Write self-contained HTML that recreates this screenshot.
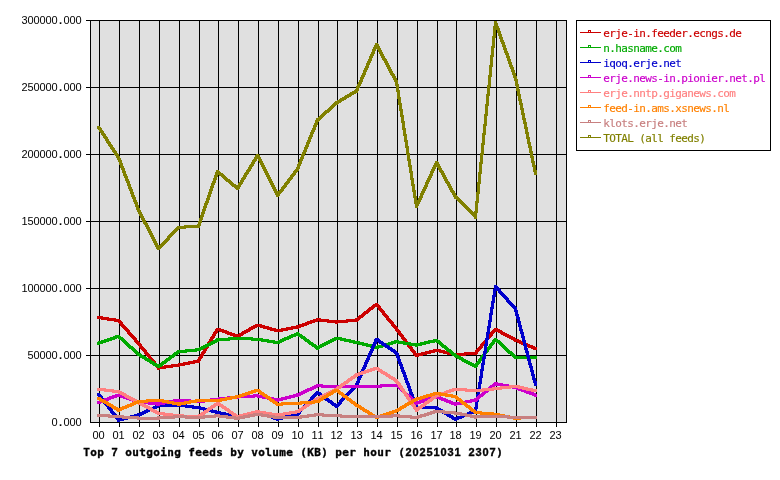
<!DOCTYPE html>
<html lang="en"><head><meta charset="utf-8"><title>Top 7 outgoing feeds by volume (KB) per hour</title>
<style>html,body{margin:0;padding:0;background:#fff}svg{display:block}.s{font-family:"DejaVu Sans Mono","Liberation Mono",monospace;font-size:11px;text-anchor:middle;stroke-width:.15px;fill:#000;stroke:#000}.n{font-family:"Liberation Sans","DejaVu Sans",sans-serif;stroke:none}.t .n{stroke:#000}.t{font-family:"DejaVu Sans Mono","Liberation Mono",monospace;font-size:11px;font-weight:bold;text-anchor:middle;stroke:#000;stroke-width:.35px}.g{stroke:#000;stroke-width:1;shape-rendering:crispEdges;fill:none}.d{stroke:none;shape-rendering:crispEdges}</style></head><body>
<svg width="780" height="480" viewBox="0 0 780 480">
<rect x="0" y="0" width="780" height="480" fill="#fff"/>
<rect x="90" y="20" width="477" height="403" fill="#e0e0e0" shape-rendering="crispEdges"/>
<path class="g" d="M86 20.5H567M86 87.5H567M86 154.5H567M86 221.5H567M86 288.5H567M86 355.5H567M90 422.5H567M99.5 20V427M119.5 20V427M139.5 20V427M159.5 20V427M179.5 20V427M199.5 20V427M218.5 20V427M238.5 20V427M258.5 20V427M278.5 20V427M298.5 20V427M318.5 20V427M337.5 20V427M357.5 20V427M377.5 20V427M397.5 20V427M417.5 20V427M437.5 20V427M456.5 20V427M476.5 20V427M496.5 20V427M516.5 20V427M536.5 20V427M556.5 20V427M90.5 20V423M566.5 20V423"/>
<path class="d" fill="#cc0000" d="M97.5 316L99.5 316L119.5 319L119.5 322L117.5 322L97.5 319ZM117 319.5L120 319.5L140 342.5L140 344.5L137 344.5L117 321.5ZM137 342.5L140 342.5L160 367L160 369L157 369L137 344.5ZM157.5 366.5L177.5 363.5L179.5 363.5L179.5 366.5L159.5 369.5L157.5 369.5ZM177.5 363.5L197.5 359.5L199.5 359.5L199.5 362.5L179.5 366.5L177.5 366.5ZM197 360L216 328L219 328L219 330L200 362L197 362ZM216.5 327.5L218.5 327.5L238.5 334.8L238.5 337.8L236.5 337.8L216.5 330.5ZM236.5 334.8L256.5 323.5L258.5 323.5L258.5 326.5L238.5 337.8L236.5 337.8ZM256.5 323.5L258.5 323.5L278.5 329.3L278.5 332.3L276.5 332.3L256.5 326.5ZM276.5 329.3L296.5 325.5L298.5 325.5L298.5 328.5L278.5 332.3L276.5 332.3ZM296.5 325.5L316.5 318.2L318.5 318.2L318.5 321.2L298.5 328.5L296.5 328.5ZM316.5 318.2L318.5 318.2L337.5 320.5L337.5 323.5L335.5 323.5L316.5 321.2ZM335.5 320.5L355.5 318.5L357.5 318.5L357.5 321.5L337.5 323.5L335.5 323.5ZM355.5 318.5L375.5 302.8L377.5 302.8L377.5 305.8L357.5 321.5L355.5 321.5ZM375 303.3L378 303.3L398 328L398 330L395 330L375 305.3ZM395 328L398 328L418 354.5L418 356.5L415 356.5L395 330ZM415.5 354L435.5 348.8L437.5 348.8L437.5 351.8L417.5 357L415.5 357ZM435.5 348.8L437.5 348.8L456.5 353.2L456.5 356.2L454.5 356.2L435.5 351.8ZM454.5 353.2L474.5 351.8L476.5 351.8L476.5 354.8L456.5 356.2L454.5 356.2ZM474 352.3L494 328.3L497 328.3L497 330.3L477 354.3L474 354.3ZM494.5 327.8L496.5 327.8L516.5 338.5L516.5 341.5L514.5 341.5L494.5 330.8ZM514.5 338.5L516.5 338.5L536.5 347.2L536.5 350.2L534.5 350.2L514.5 341.5ZM97 316h3v3h-3ZM117 319h3v3h-3ZM137 342h3v3h-3ZM157 366.5h3v3h-3ZM177 363.5h3v3h-3ZM197 359.5h3v3h-3ZM216 327.5h3v3h-3ZM236 334.8h3v3h-3ZM256 323.5h3v3h-3ZM276 329.3h3v3h-3ZM296 325.5h3v3h-3ZM316 318.2h3v3h-3ZM335 320.5h3v3h-3ZM355 318.5h3v3h-3ZM375 302.8h3v3h-3ZM395 327.5h3v3h-3ZM415 354h3v3h-3ZM435 348.8h3v3h-3ZM454 353.2h3v3h-3ZM474 351.8h3v3h-3ZM494 327.8h3v3h-3ZM514 338.5h3v3h-3ZM534 347.2h3v3h-3Z"/>
<path class="d" fill="#00aa00" d="M97.5 341.8L117.5 334.8L119.5 334.8L119.5 337.8L99.5 344.8L97.5 344.8ZM117.5 334.8L119.5 334.8L139.5 352.7L139.5 355.7L137.5 355.7L117.5 337.8ZM137.5 352.7L139.5 352.7L159.5 365L159.5 368L157.5 368L137.5 355.7ZM157.5 365L177.5 350.2L179.5 350.2L179.5 353.2L159.5 368L157.5 368ZM177.5 350.2L197.5 348.3L199.5 348.3L199.5 351.3L179.5 353.2L177.5 353.2ZM197.5 348.3L216.5 338.5L218.5 338.5L218.5 341.5L199.5 351.3L197.5 351.3ZM216.5 338.5L236.5 336.8L238.5 336.8L238.5 339.8L218.5 341.5L216.5 341.5ZM236.5 336.8L238.5 336.8L258.5 337.8L258.5 340.8L256.5 340.8L236.5 339.8ZM256.5 337.8L258.5 337.8L278.5 341L278.5 344L276.5 344L256.5 340.8ZM276.5 341L296.5 332.2L298.5 332.2L298.5 335.2L278.5 344L276.5 344ZM296.5 332.2L298.5 332.2L318.5 346.5L318.5 349.5L316.5 349.5L296.5 335.2ZM316.5 346.5L335.5 336.5L337.5 336.5L337.5 339.5L318.5 349.5L316.5 349.5ZM335.5 336.5L337.5 336.5L357.5 341L357.5 344L355.5 344L335.5 339.5ZM355.5 341L357.5 341L377.5 346L377.5 349L375.5 349L355.5 344ZM375.5 346L395.5 340.2L397.5 340.2L397.5 343.2L377.5 349L375.5 349ZM395.5 340.2L397.5 340.2L417.5 343.5L417.5 346.5L415.5 346.5L395.5 343.2ZM415.5 343.5L435.5 338.8L437.5 338.8L437.5 341.8L417.5 346.5L415.5 346.5ZM435.5 338.8L437.5 338.8L456.5 354.3L456.5 357.3L454.5 357.3L435.5 341.8ZM454.5 354.3L456.5 354.3L476.5 364.8L476.5 367.8L474.5 367.8L454.5 357.3ZM474 365.3L494 338.2L497 338.2L497 340.2L477 367.3L474 367.3ZM494.5 337.7L496.5 337.7L516.5 356L516.5 359L514.5 359L494.5 340.7ZM514.5 356L536.5 356L536.5 359L514.5 359ZM97 341.8h3v3h-3ZM117 334.8h3v3h-3ZM137 352.7h3v3h-3ZM157 365h3v3h-3ZM177 350.2h3v3h-3ZM197 348.3h3v3h-3ZM216 338.5h3v3h-3ZM236 336.8h3v3h-3ZM256 337.8h3v3h-3ZM276 341h3v3h-3ZM296 332.2h3v3h-3ZM316 346.5h3v3h-3ZM335 336.5h3v3h-3ZM355 341h3v3h-3ZM375 346h3v3h-3ZM395 340.2h3v3h-3ZM415 343.5h3v3h-3ZM435 338.8h3v3h-3ZM454 354.3h3v3h-3ZM474 364.8h3v3h-3ZM494 337.7h3v3h-3ZM514 356h3v3h-3ZM534 356h3v3h-3Z"/>
<path class="d" fill="#0000cc" d="M97 393.2L100 393.2L120 419L120 421L117 421L97 395.2ZM117.5 418.5L137.5 413.5L139.5 413.5L139.5 416.5L119.5 421.5L117.5 421.5ZM137.5 413.5L157.5 404.3L159.5 404.3L159.5 407.3L139.5 416.5L137.5 416.5ZM157.5 404.3L177.5 403.5L179.5 403.5L179.5 406.5L159.5 407.3L157.5 407.3ZM177.5 403.5L179.5 403.5L199.5 406.2L199.5 409.2L197.5 409.2L177.5 406.5ZM197.5 406.2L199.5 406.2L218.5 411L218.5 414L216.5 414L197.5 409.2ZM216.5 411L218.5 411L238.5 415.2L238.5 418.2L236.5 418.2L216.5 414ZM236.5 415.2L256.5 410L258.5 410L258.5 413L238.5 418.2L236.5 418.2ZM256.5 410L258.5 410L278.5 417.7L278.5 420.7L276.5 420.7L256.5 413ZM276.5 417.7L296.5 412.7L298.5 412.7L298.5 415.7L278.5 420.7L276.5 420.7ZM296 413.2L316 391.5L319 391.5L319 393.5L299 415.2L296 415.2ZM316.5 391L318.5 391L337.5 404.8L337.5 407.8L335.5 407.8L316.5 394ZM335 405.3L355 384L358 384L358 386L338 407.3L335 407.3ZM355 384L375 338.3L378 338.3L378 340.3L358 386L355 386ZM375.5 337.8L377.5 337.8L397.5 351.5L397.5 354.5L395.5 354.5L375.5 340.8ZM395 352L398 352L418 406.5L418 408.5L415 408.5L395 354ZM415.5 406L417.5 406L437.5 406.5L437.5 409.5L435.5 409.5L415.5 409ZM435.5 406.5L437.5 406.5L456.5 417.7L456.5 420.7L454.5 420.7L435.5 409.5ZM454.5 417.7L474.5 409.3L476.5 409.3L476.5 412.3L456.5 420.7L454.5 420.7ZM474 409.8L494 285.5L497 285.5L497 287.5L477 411.8L474 411.8ZM494 285.5L497 285.5L517 308L517 310L514 310L494 287.5ZM514 308L517 308L537 383.2L537 385.2L534 385.2L514 310ZM97 392.7h3v3h-3ZM117 418.5h3v3h-3ZM137 413.5h3v3h-3ZM157 404.3h3v3h-3ZM177 403.5h3v3h-3ZM197 406.2h3v3h-3ZM216 411h3v3h-3ZM236 415.2h3v3h-3ZM256 410h3v3h-3ZM276 417.7h3v3h-3ZM296 412.7h3v3h-3ZM316 391h3v3h-3ZM335 404.8h3v3h-3ZM355 383.5h3v3h-3ZM375 337.8h3v3h-3ZM395 351.5h3v3h-3ZM415 406h3v3h-3ZM435 406.5h3v3h-3ZM454 417.7h3v3h-3ZM474 409.3h3v3h-3ZM494 285h3v3h-3ZM514 307.5h3v3h-3ZM534 382.7h3v3h-3Z"/>
<path class="d" fill="#cc00cc" d="M97.5 401L117.5 393.5L119.5 393.5L119.5 396.5L99.5 404L97.5 404ZM117.5 393.5L119.5 393.5L139.5 400.2L139.5 403.2L137.5 403.2L117.5 396.5ZM137.5 400.2L139.5 400.2L159.5 402.7L159.5 405.7L157.5 405.7L137.5 403.2ZM157.5 402.7L177.5 398.5L179.5 398.5L179.5 401.5L159.5 405.7L157.5 405.7ZM177.5 398.5L179.5 398.5L199.5 400.2L199.5 403.2L197.5 403.2L177.5 401.5ZM197.5 400.2L216.5 397.7L218.5 397.7L218.5 400.7L199.5 403.2L197.5 403.2ZM216.5 397.7L236.5 395.5L238.5 395.5L238.5 398.5L218.5 400.7L216.5 400.7ZM236.5 395.5L256.5 394.3L258.5 394.3L258.5 397.3L238.5 398.5L236.5 398.5ZM256.5 394.3L258.5 394.3L278.5 398.5L278.5 401.5L276.5 401.5L256.5 397.3ZM276.5 398.5L296.5 393.5L298.5 393.5L298.5 396.5L278.5 401.5L276.5 401.5ZM296.5 393.5L316.5 384.3L318.5 384.3L318.5 387.3L298.5 396.5L296.5 396.5ZM316.5 384.3L318.5 384.3L337.5 385.2L337.5 388.2L335.5 388.2L316.5 387.3ZM335.5 385.2L355.5 384.8L357.5 384.8L357.5 387.8L337.5 388.2L335.5 388.2ZM355.5 384.8L377.5 384.8L377.5 387.8L355.5 387.8ZM375.5 384.8L395.5 383.5L397.5 383.5L397.5 386.5L377.5 387.8L375.5 387.8ZM395.5 383.5L397.5 383.5L417.5 401.8L417.5 404.8L415.5 404.8L395.5 386.5ZM415.5 401.8L435.5 395.2L437.5 395.2L437.5 398.2L417.5 404.8L415.5 404.8ZM435.5 395.2L437.5 395.2L456.5 402.7L456.5 405.7L454.5 405.7L435.5 398.2ZM454.5 402.7L474.5 398.5L476.5 398.5L476.5 401.5L456.5 405.7L454.5 405.7ZM474.5 398.5L494.5 382.2L496.5 382.2L496.5 385.2L476.5 401.5L474.5 401.5ZM494.5 382.2L496.5 382.2L516.5 386L516.5 389L514.5 389L494.5 385.2ZM514.5 386L516.5 386L536.5 393.5L536.5 396.5L534.5 396.5L514.5 389ZM97 401h3v3h-3ZM117 393.5h3v3h-3ZM137 400.2h3v3h-3ZM157 402.7h3v3h-3ZM177 398.5h3v3h-3ZM197 400.2h3v3h-3ZM216 397.7h3v3h-3ZM236 395.5h3v3h-3ZM256 394.3h3v3h-3ZM276 398.5h3v3h-3ZM296 393.5h3v3h-3ZM316 384.3h3v3h-3ZM335 385.2h3v3h-3ZM355 384.8h3v3h-3ZM375 384.8h3v3h-3ZM395 383.5h3v3h-3ZM415 401.8h3v3h-3ZM435 395.2h3v3h-3ZM454 402.7h3v3h-3ZM474 398.5h3v3h-3ZM494 382.2h3v3h-3ZM514 386h3v3h-3ZM534 393.5h3v3h-3Z"/>
<path class="d" fill="#ff8080" d="M97.5 387.7L99.5 387.7L119.5 390.2L119.5 393.2L117.5 393.2L97.5 390.7ZM117.5 390.2L119.5 390.2L139.5 401L139.5 404L137.5 404L117.5 393.2ZM137.5 401L139.5 401L159.5 411.8L159.5 414.8L157.5 414.8L137.5 404ZM157.5 411.8L159.5 411.8L179.5 414.3L179.5 417.3L177.5 417.3L157.5 414.8ZM177.5 414.3L179.5 414.3L199.5 415.2L199.5 418.2L197.5 418.2L177.5 417.3ZM197.5 415.2L216.5 401.8L218.5 401.8L218.5 404.8L199.5 418.2L197.5 418.2ZM216.5 401.8L218.5 401.8L238.5 415.2L238.5 418.2L236.5 418.2L216.5 404.8ZM236.5 415.2L256.5 410.2L258.5 410.2L258.5 413.2L238.5 418.2L236.5 418.2ZM256.5 410.2L258.5 410.2L278.5 413.5L278.5 416.5L276.5 416.5L256.5 413.2ZM276.5 413.5L296.5 410.2L298.5 410.2L298.5 413.2L278.5 416.5L276.5 416.5ZM296.5 410.2L316.5 397L318.5 397L318.5 400L298.5 413.2L296.5 413.2ZM316.5 397L335.5 387.7L337.5 387.7L337.5 390.7L318.5 400L316.5 400ZM335.5 387.7L355.5 373.5L357.5 373.5L357.5 376.5L337.5 390.7L335.5 390.7ZM355.5 373.5L375.5 366.8L377.5 366.8L377.5 369.8L357.5 376.5L355.5 376.5ZM375.5 366.8L377.5 366.8L397.5 379.3L397.5 382.3L395.5 382.3L375.5 369.8ZM395 379.8L398 379.8L418 409L418 411L415 411L395 381.8ZM415.5 408.5L435.5 394.3L437.5 394.3L437.5 397.3L417.5 411.5L415.5 411.5ZM435.5 394.3L454.5 387.7L456.5 387.7L456.5 390.7L437.5 397.3L435.5 397.3ZM454.5 387.7L456.5 387.7L476.5 389.3L476.5 392.3L474.5 392.3L454.5 390.7ZM474.5 389.3L494.5 387.2L496.5 387.2L496.5 390.2L476.5 392.3L474.5 392.3ZM494.5 387.2L514.5 384.8L516.5 384.8L516.5 387.8L496.5 390.2L494.5 390.2ZM514.5 384.8L516.5 384.8L536.5 389.3L536.5 392.3L534.5 392.3L514.5 387.8ZM97 387.7h3v3h-3ZM117 390.2h3v3h-3ZM137 401h3v3h-3ZM157 411.8h3v3h-3ZM177 414.3h3v3h-3ZM197 415.2h3v3h-3ZM216 401.8h3v3h-3ZM236 415.2h3v3h-3ZM256 410.2h3v3h-3ZM276 413.5h3v3h-3ZM296 410.2h3v3h-3ZM316 397h3v3h-3ZM335 387.7h3v3h-3ZM355 373.5h3v3h-3ZM375 366.8h3v3h-3ZM395 379.3h3v3h-3ZM415 408.5h3v3h-3ZM435 394.3h3v3h-3ZM454 387.7h3v3h-3ZM474 389.3h3v3h-3ZM494 387.2h3v3h-3ZM514 384.8h3v3h-3ZM534 389.3h3v3h-3Z"/>
<path class="d" fill="#ff8000" d="M97.5 396.8L99.5 396.8L119.5 408.5L119.5 411.5L117.5 411.5L97.5 399.8ZM117.5 408.5L137.5 400.2L139.5 400.2L139.5 403.2L119.5 411.5L117.5 411.5ZM137.5 400.2L157.5 398.5L159.5 398.5L159.5 401.5L139.5 403.2L137.5 403.2ZM157.5 398.5L159.5 398.5L179.5 402.7L179.5 405.7L177.5 405.7L157.5 401.5ZM177.5 402.7L197.5 399L199.5 399L199.5 402L179.5 405.7L177.5 405.7ZM197.5 399L199.5 399L218.5 399.3L218.5 402.3L216.5 402.3L197.5 402ZM216.5 399.3L236.5 395.2L238.5 395.2L238.5 398.2L218.5 402.3L216.5 402.3ZM236.5 395.2L256.5 388.8L258.5 388.8L258.5 391.8L238.5 398.2L236.5 398.2ZM256.5 388.8L258.5 388.8L278.5 402.7L278.5 405.7L276.5 405.7L256.5 391.8ZM276.5 402.7L296.5 401.8L298.5 401.8L298.5 404.8L278.5 405.7L276.5 405.7ZM296.5 401.8L316.5 400.2L318.5 400.2L318.5 403.2L298.5 404.8L296.5 404.8ZM316.5 400.2L335.5 388.5L337.5 388.5L337.5 391.5L318.5 403.2L316.5 403.2ZM335.5 388.5L337.5 388.5L357.5 403.5L357.5 406.5L355.5 406.5L335.5 391.5ZM355.5 403.5L357.5 403.5L377.5 416L377.5 419L375.5 419L355.5 406.5ZM375.5 416L395.5 409.3L397.5 409.3L397.5 412.3L377.5 419L375.5 419ZM395.5 409.3L415.5 397.7L417.5 397.7L417.5 400.7L397.5 412.3L395.5 412.3ZM415.5 397.7L435.5 391.8L437.5 391.8L437.5 394.8L417.5 400.7L415.5 400.7ZM435.5 391.8L437.5 391.8L456.5 395.2L456.5 398.2L454.5 398.2L435.5 394.8ZM454.5 395.2L456.5 395.2L476.5 411L476.5 414L474.5 414L454.5 398.2ZM474.5 411L476.5 411L496.5 412.7L496.5 415.7L494.5 415.7L474.5 414ZM494.5 412.7L496.5 412.7L516.5 416.8L516.5 419.8L514.5 419.8L494.5 415.7ZM514.5 416.8L534.5 415.5L536.5 415.5L536.5 418.5L516.5 419.8L514.5 419.8ZM97 396.8h3v3h-3ZM117 408.5h3v3h-3ZM137 400.2h3v3h-3ZM157 398.5h3v3h-3ZM177 402.7h3v3h-3ZM197 399h3v3h-3ZM216 399.3h3v3h-3ZM236 395.2h3v3h-3ZM256 388.8h3v3h-3ZM276 402.7h3v3h-3ZM296 401.8h3v3h-3ZM316 400.2h3v3h-3ZM335 388.5h3v3h-3ZM355 403.5h3v3h-3ZM375 416h3v3h-3ZM395 409.3h3v3h-3ZM415 397.7h3v3h-3ZM435 391.8h3v3h-3ZM454 395.2h3v3h-3ZM474 411h3v3h-3ZM494 412.7h3v3h-3ZM514 416.8h3v3h-3ZM534 415.5h3v3h-3Z"/>
<path class="d" fill="#c88080" d="M97.5 413.8L99.5 413.8L119.5 415.2L119.5 418.2L117.5 418.2L97.5 416.8ZM117.5 415.2L119.5 415.2L139.5 416.5L139.5 419.5L137.5 419.5L117.5 418.2ZM137.5 416.5L159.5 416.5L159.5 419.5L137.5 419.5ZM157.5 416.5L177.5 415.2L179.5 415.2L179.5 418.2L159.5 419.5L157.5 419.5ZM177.5 415.2L179.5 415.2L199.5 416L199.5 419L197.5 419L177.5 418.2ZM197.5 416L216.5 414.3L218.5 414.3L218.5 417.3L199.5 419L197.5 419ZM216.5 414.3L218.5 414.3L238.5 416.8L238.5 419.8L236.5 419.8L216.5 417.3ZM236.5 416.8L256.5 412.7L258.5 412.7L258.5 415.7L238.5 419.8L236.5 419.8ZM256.5 412.7L258.5 412.7L278.5 416L278.5 419L276.5 419L256.5 415.7ZM276.5 416L298.5 416L298.5 419L276.5 419ZM296.5 416L316.5 413.2L318.5 413.2L318.5 416.2L298.5 419L296.5 419ZM316.5 413.2L318.5 413.2L337.5 414.3L337.5 417.3L335.5 417.3L316.5 416.2ZM335.5 414.3L337.5 414.3L357.5 415.2L357.5 418.2L355.5 418.2L335.5 417.3ZM355.5 415.2L377.5 415.2L377.5 418.2L355.5 418.2ZM375.5 415.2L395.5 414.3L397.5 414.3L397.5 417.3L377.5 418.2L375.5 418.2ZM395.5 414.3L397.5 414.3L417.5 416L417.5 419L415.5 419L395.5 417.3ZM415.5 416L435.5 409.8L437.5 409.8L437.5 412.8L417.5 419L415.5 419ZM435.5 409.8L437.5 409.8L456.5 411.5L456.5 414.5L454.5 414.5L435.5 412.8ZM454.5 411.5L456.5 411.5L476.5 415.5L476.5 418.5L474.5 418.5L454.5 414.5ZM474.5 415.5L494.5 415.2L496.5 415.2L496.5 418.2L476.5 418.5L474.5 418.5ZM494.5 415.2L496.5 415.2L516.5 415.7L516.5 418.7L514.5 418.7L494.5 418.2ZM514.5 415.7L536.5 415.7L536.5 418.7L514.5 418.7ZM97 413.8h3v3h-3ZM117 415.2h3v3h-3ZM137 416.5h3v3h-3ZM157 416.5h3v3h-3ZM177 415.2h3v3h-3ZM197 416h3v3h-3ZM216 414.3h3v3h-3ZM236 416.8h3v3h-3ZM256 412.7h3v3h-3ZM276 416h3v3h-3ZM296 416h3v3h-3ZM316 413.2h3v3h-3ZM335 414.3h3v3h-3ZM355 415.2h3v3h-3ZM375 415.2h3v3h-3ZM395 414.3h3v3h-3ZM415 416h3v3h-3ZM435 409.8h3v3h-3ZM454 411.5h3v3h-3ZM474 415.5h3v3h-3ZM494 415.2h3v3h-3ZM514 415.7h3v3h-3ZM534 415.7h3v3h-3Z"/>
<path class="d" fill="#808000" d="M97 126L100 126L120 156.5L120 158.5L117 158.5L97 128ZM117 156.5L120 156.5L140 209L140 211L137 211L117 158.5ZM137 209L140 209L160 247.5L160 249.5L157 249.5L137 211ZM157 247.5L177 226.5L180 226.5L180 228.5L160 249.5L157 249.5ZM177.5 226L197.5 224.5L199.5 224.5L199.5 227.5L179.5 229L177.5 229ZM197 225L216 170.5L219 170.5L219 172.5L200 227L197 227ZM216.5 170L218.5 170L238.5 187L238.5 190L236.5 190L216.5 173ZM236 187.5L256 154.5L259 154.5L259 156.5L239 189.5L236 189.5ZM256 154.5L259 154.5L279 194.5L279 196.5L276 196.5L256 156.5ZM276 194.5L296 168L299 168L299 170L279 196.5L276 196.5ZM296 168L316 119L319 119L319 121L299 170L296 170ZM316.5 118.5L335.5 101.5L337.5 101.5L337.5 104.5L318.5 121.5L316.5 121.5ZM335.5 101.5L355.5 89.5L357.5 89.5L357.5 92.5L337.5 104.5L335.5 104.5ZM355 90L375 43.5L378 43.5L378 45.5L358 92L355 92ZM375 43.5L378 43.5L398 81L398 83L395 83L375 45.5ZM395 81L398 81L418 205.5L418 207.5L415 207.5L395 83ZM415 205.5L435 161.5L438 161.5L438 163.5L418 207.5L415 207.5ZM435 161.5L438 161.5L457 196L457 198L454 198L435 163.5ZM454.5 195.5L456.5 195.5L476.5 215.5L476.5 218.5L474.5 218.5L454.5 198.5ZM474 216L494 21.5L497 21.5L497 23.5L477 218L474 218ZM494 21.5L497 21.5L517 77L517 79L514 79L494 23.5ZM514 77L517 77L537 172.5L537 174.5L534 174.5L514 79ZM97 125.5h3v3h-3ZM117 156h3v3h-3ZM137 208.5h3v3h-3ZM157 247h3v3h-3ZM177 226h3v3h-3ZM197 224.5h3v3h-3ZM216 170h3v3h-3ZM236 187h3v3h-3ZM256 154h3v3h-3ZM276 194h3v3h-3ZM296 167.5h3v3h-3ZM316 118.5h3v3h-3ZM335 101.5h3v3h-3ZM355 89.5h3v3h-3ZM375 43h3v3h-3ZM395 80.5h3v3h-3ZM415 205h3v3h-3ZM435 161h3v3h-3ZM454 195.5h3v3h-3ZM474 215.5h3v3h-3ZM494 21h3v3h-3ZM514 76.5h3v3h-3ZM534 172h3v3h-3Z"/>
<g class="s">
<text x="24.5 30.5 36.5 42.5 48.5 54.5 60.5 66.5 72.5 78.5" y="24"><tspan class="n">300000</tspan>.<tspan class="n">000</tspan></text>
<text x="24.5 30.5 36.5 42.5 48.5 54.5 60.5 66.5 72.5 78.5" y="91"><tspan class="n">250000</tspan>.<tspan class="n">000</tspan></text>
<text x="24.5 30.5 36.5 42.5 48.5 54.5 60.5 66.5 72.5 78.5" y="158"><tspan class="n">200000</tspan>.<tspan class="n">000</tspan></text>
<text x="24.5 30.5 36.5 42.5 48.5 54.5 60.5 66.5 72.5 78.5" y="225"><tspan class="n">150000</tspan>.<tspan class="n">000</tspan></text>
<text x="24.5 30.5 36.5 42.5 48.5 54.5 60.5 66.5 72.5 78.5" y="292"><tspan class="n">100000</tspan>.<tspan class="n">000</tspan></text>
<text x="30.5 36.5 42.5 48.5 54.5 60.5 66.5 72.5 78.5" y="359"><tspan class="n">50000</tspan>.<tspan class="n">000</tspan></text>
<text x="54.5 60.5 66.5 72.5 78.5" y="426"><tspan class="n">0</tspan>.<tspan class="n">000</tspan></text>
<text x="95.5 101.5" y="439"><tspan class="n">00</tspan></text>
<text x="115.5 121.5" y="439"><tspan class="n">01</tspan></text>
<text x="135.5 141.5" y="439"><tspan class="n">02</tspan></text>
<text x="155.5 161.5" y="439"><tspan class="n">03</tspan></text>
<text x="175.5 181.5" y="439"><tspan class="n">04</tspan></text>
<text x="195.5 201.5" y="439"><tspan class="n">05</tspan></text>
<text x="214.5 220.5" y="439"><tspan class="n">06</tspan></text>
<text x="234.5 240.5" y="439"><tspan class="n">07</tspan></text>
<text x="254.5 260.5" y="439"><tspan class="n">08</tspan></text>
<text x="274.5 280.5" y="439"><tspan class="n">09</tspan></text>
<text x="294.5 300.5" y="439"><tspan class="n">10</tspan></text>
<text x="314.5 320.5" y="439"><tspan class="n">11</tspan></text>
<text x="333.5 339.5" y="439"><tspan class="n">12</tspan></text>
<text x="353.5 359.5" y="439"><tspan class="n">13</tspan></text>
<text x="373.5 379.5" y="439"><tspan class="n">14</tspan></text>
<text x="393.5 399.5" y="439"><tspan class="n">15</tspan></text>
<text x="413.5 419.5" y="439"><tspan class="n">16</tspan></text>
<text x="433.5 439.5" y="439"><tspan class="n">17</tspan></text>
<text x="452.5 458.5" y="439"><tspan class="n">18</tspan></text>
<text x="472.5 478.5" y="439"><tspan class="n">19</tspan></text>
<text x="492.5 498.5" y="439"><tspan class="n">20</tspan></text>
<text x="512.5 518.5" y="439"><tspan class="n">21</tspan></text>
<text x="532.5 538.5" y="439"><tspan class="n">22</tspan></text>
<text x="552.5 558.5" y="439"><tspan class="n">23</tspan></text>
</g>
<text class="t" x="86.5 93.5 100.5 107.5 114.5 121.5 128.5 135.5 142.5 149.5 156.5 163.5 170.5 177.5 184.5 191.5 198.5 205.5 212.5 219.5 226.5 233.5 240.5 247.5 254.5 261.5 268.5 275.5 282.5 289.5 296.5 303.5 310.5 317.5 324.5 331.5 338.5 345.5 352.5 359.5 366.5 373.5 380.5 387.5 394.5 401.5 408.5 415.5 422.5 429.5 436.5 443.5 450.5 457.5 464.5 471.5 478.5 485.5 492.5 499.5" y="456">Top <tspan class="n">7</tspan> outgoing feeds by volume (KB) per hour (<tspan class="n">20251031</tspan> <tspan class="n">2307</tspan>)</text>
<rect class="g" x="576.5" y="20.5" width="194" height="130" style="fill:#fff"/>
<g class="s">
<path class="g" style="stroke:#cc0000" d="M580 32.5H601M588.5 32V30.5H590.5V32"/>
<text x="606.5 612.5 618.5 624.5 630.5 636.5 642.5 648.5 654.5 660.5 666.5 672.5 678.5 684.5 690.5 696.5 702.5 708.5 714.5 720.5 726.5 732.5 738.5" y="37" fill="#cc0000" stroke="#cc0000">erje-in.feeder.ecngs.de</text>
<path class="g" style="stroke:#00aa00" d="M580 47.5H601M588.5 47V45.5H590.5V47"/>
<text x="606.5 612.5 618.5 624.5 630.5 636.5 642.5 648.5 654.5 660.5 666.5 672.5 678.5" y="52" fill="#00aa00" stroke="#00aa00">n.hasname.com</text>
<path class="g" style="stroke:#0000cc" d="M580 62.5H601M588.5 62V60.5H590.5V62"/>
<text x="606.5 612.5 618.5 624.5 630.5 636.5 642.5 648.5 654.5 660.5 666.5 672.5 678.5" y="67" fill="#0000cc" stroke="#0000cc">iqoq.erje.net</text>
<path class="g" style="stroke:#cc00cc" d="M580 77.5H601M588.5 77V75.5H590.5V77"/>
<text x="606.5 612.5 618.5 624.5 630.5 636.5 642.5 648.5 654.5 660.5 666.5 672.5 678.5 684.5 690.5 696.5 702.5 708.5 714.5 720.5 726.5 732.5 738.5 744.5 750.5 756.5 762.5" y="82" fill="#cc00cc" stroke="#cc00cc">erje.news-in.pionier.net.pl</text>
<path class="g" style="stroke:#ff8080" d="M580 92.5H601M588.5 92V90.5H590.5V92"/>
<text x="606.5 612.5 618.5 624.5 630.5 636.5 642.5 648.5 654.5 660.5 666.5 672.5 678.5 684.5 690.5 696.5 702.5 708.5 714.5 720.5 726.5 732.5" y="97" fill="#ff8080" stroke="#ff8080">erje.nntp.giganews.com</text>
<path class="g" style="stroke:#ff8000" d="M580 107.5H601M588.5 107V105.5H590.5V107"/>
<text x="606.5 612.5 618.5 624.5 630.5 636.5 642.5 648.5 654.5 660.5 666.5 672.5 678.5 684.5 690.5 696.5 702.5 708.5 714.5 720.5 726.5" y="112" fill="#ff8000" stroke="#ff8000">feed-in.ams.xsnews.nl</text>
<path class="g" style="stroke:#c88080" d="M580 122.5H601M588.5 122V120.5H590.5V122"/>
<text x="606.5 612.5 618.5 624.5 630.5 636.5 642.5 648.5 654.5 660.5 666.5 672.5 678.5 684.5" y="127" fill="#c88080" stroke="#c88080">klots.erje.net</text>
<path class="g" style="stroke:#808000" d="M580 137.5H601M588.5 137V135.5H590.5V137"/>
<text x="606.5 612.5 618.5 624.5 630.5 636.5 642.5 648.5 654.5 660.5 666.5 672.5 678.5 684.5 690.5 696.5 702.5" y="142" fill="#808000" stroke="#808000">TOTAL (all feeds)</text>
</g>
</svg></body></html>
